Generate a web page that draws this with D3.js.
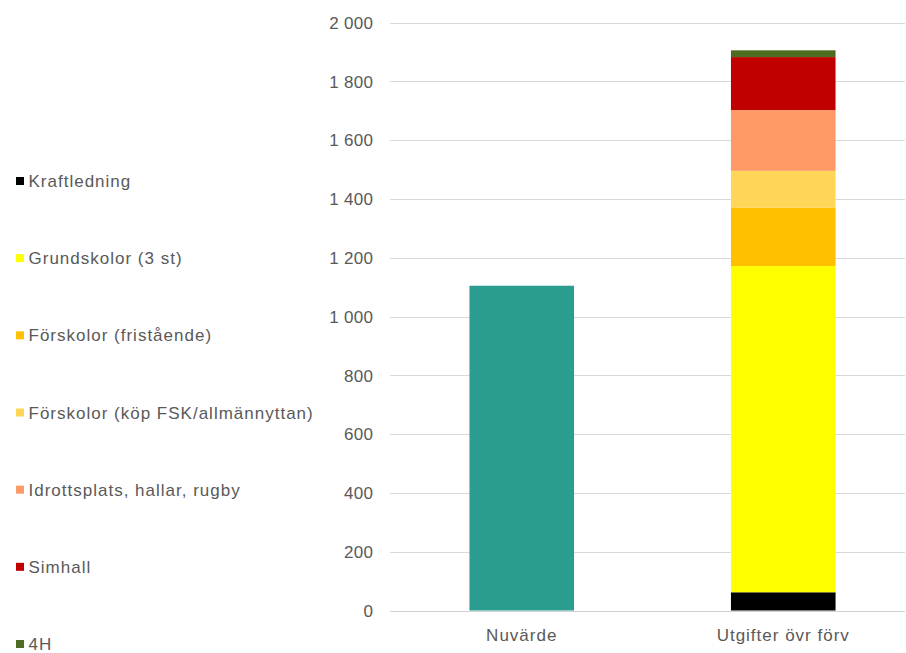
<!DOCTYPE html>
<html>
<head>
<meta charset="utf-8">
<script src="https://cdn.jsdelivr.net/npm/d3@7"></script>
<style>
  html, body { margin: 0; padding: 0; background: #fff; }
  svg { display: block; font-family: "Liberation Sans", Arial, sans-serif; }
</style>
</head>
<body>
<svg id="chart" width="906" height="653"></svg>
<script>
// Categories on the x axis
const categories = ["Nuvärde", "Utgifter övr förv"];

// Single value for the present-value bar
const nuvardeValue = 1105;

// Stacked components of the expenditure bar (bottom to top)
const seriesNames = [
  "Kraftledning",
  "Grundskolor (3 st)",
  "Förskolor (fristående)",
  "Förskolor (köp FSK/allmännyttan)",
  "Idrottsplats, hallar, rugby",
  "Simhall",
  "4H"
];
const seriesValues = [62, 1110, 198, 126, 207, 180, 23];
const seriesColors = ["#000000", "#FFFF00", "#FFC000", "#FFD657", "#FF9966", "#C00000", "#4E6B22"];
const nuvardeColor = "#2A9D90";

// Y axis ticks
const yTicks = [0, 200, 400, 600, 800, 1000, 1200, 1400, 1600, 1800, 2000];

const svg = d3.select("#chart");
const textColor = "#595959";
const fontSize = 17;
const labelSpacing = "1px";

const plot = { left: 390, right: 905, top: 22.7, bottom: 610.5 };

const y = d3.scaleLinear().domain([0, 2000]).range([plot.bottom, plot.top]);
const x = d3.scaleBand().domain(categories).range([391, 914])
  .paddingInner(0.6).paddingOuter(0.3);

// Gridlines
svg.append("g").selectAll("line").data(yTicks).join("line")
  .attr("x1", plot.left).attr("x2", plot.right)
  .attr("y1", d => Math.round(y(d)) + 0.5).attr("y2", d => Math.round(y(d)) + 0.5)
  .attr("stroke", d => d === 0 ? "#d0d0d0" : "#d9d9d9")
  .attr("stroke-width", 1);

// Tick labels with space as thousands separator
const fmt = d => d >= 1000 ? String(Math.floor(d / 1000)) + " " + String(d % 1000).padStart(3, "0") : String(d);
svg.append("g").selectAll("text").data(yTicks).join("text")
  .attr("x", 373.3).attr("y", d => y(d))
  .attr("dy", "0.36em")
  .attr("text-anchor", "end")
  .attr("fill", textColor)
  .attr("font-size", fontSize)
  .attr("letter-spacing", "0.3px")
  .text(fmt);

// Present-value bar
svg.append("rect")
  .attr("x", x(categories[0])).attr("width", x.bandwidth())
  .attr("y", y(nuvardeValue)).attr("height", y(0) - y(nuvardeValue))
  .attr("fill", nuvardeColor);

// Stacked expenditure bar
const stackRow = {};
seriesNames.forEach((n, i) => stackRow[n] = seriesValues[i]);
const stacked = d3.stack().keys(seriesNames)([stackRow]);
svg.append("g").selectAll("rect").data(stacked).join("rect")
  .attr("x", x(categories[1])).attr("width", x.bandwidth())
  .attr("y", d => y(d[0][1]))
  .attr("height", d => y(d[0][0]) - y(d[0][1]))
  .attr("fill", (d, i) => seriesColors[i]);

// Category labels
svg.append("g").selectAll("text").data(categories).join("text")
  .attr("x", d => x(d) + x.bandwidth() / 2)
  .attr("y", 641)
  .attr("text-anchor", "middle")
  .attr("fill", textColor)
  .attr("font-size", fontSize)
  .attr("letter-spacing", labelSpacing)
  .text(d => d);

// Legend
const legendY = d3.scalePoint().domain(seriesNames).range([181, 644]);
const lg = svg.append("g").selectAll("g").data(seriesNames).join("g")
  .attr("transform", d => `translate(0,${legendY(d)})`);
lg.append("rect")
  .attr("x", 16).attr("y", -4).attr("width", 8).attr("height", 8)
  .attr("fill", (d, i) => seriesColors[i]);
lg.append("text")
  .attr("x", 28.5).attr("y", 0).attr("dy", "0.36em")
  .attr("fill", textColor)
  .attr("font-size", fontSize)
  .attr("letter-spacing", labelSpacing)
  .text(d => d);
</script>
</body>
</html>
